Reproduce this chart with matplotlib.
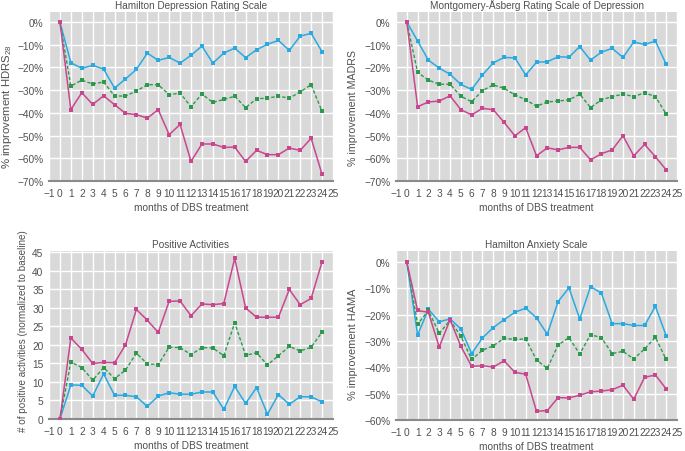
import matplotlib
matplotlib.use("Agg")
import matplotlib.pyplot as plt
from matplotlib.ticker import FuncFormatter

months = list(range(0, 25))

hdrs_blue = [0, -17.9, -20.4, -19.1, -20.7, -29.1, -25.1, -20.9, -13.7, -16.9, -15.6, -18.1, -14.7,
             -10.6, -18.1, -13.7, -11.5, -15.7, -12.2, -9.8, -8.1, -12.5, -6.2, -5.0, -13.1]
hdrs_green = [0, -28.2, -25.6, -27.3, -26.4, -32.6, -32.6, -30.4, -27.6, -27.6, -32.0, -31.3, -37.3,
              -31.7, -35.4, -34.1, -32.7, -37.7, -33.8, -33.5, -32.7, -33.5, -30.8, -27.6, -39.4]
hdrs_magenta = [0, -38.6, -31.1, -36.3, -32.5, -36.4, -40.2, -40.8, -42.3, -38.6, -49.6, -45.1, -61.4,
                -53.7, -53.7, -55.2, -55.1, -61.4, -56.5, -58.4, -58.4, -55.5, -56.5, -51.2, -67.1]

madrs_blue = [0, -8.4, -16.8, -20.3, -23.0, -27.5, -29.7, -23.3, -18.0, -15.6, -15.8, -23.3, -17.7,
              -17.5, -15.3, -15.5, -10.8, -16.8, -13.3, -11.6, -15.6, -8.8, -9.9, -8.4, -18.6]
madrs_green = [0, -22.2, -25.6, -27.4, -27.4, -32.7, -35.1, -30.2, -27.7, -29.2, -32.1, -34.2, -37.1,
               -35.2, -34.8, -34.3, -31.8, -37.7, -34.3, -32.8, -31.8, -32.8, -31.2, -32.8, -40.5]
madrs_magenta = [0, -37.3, -35.2, -34.8, -32.5, -38.6, -40.9, -38.0, -38.6, -44.2, -50.1, -46.5, -58.9,
                 -55.4, -56.3, -55.2, -55.2, -60.7, -58.0, -56.3, -50.1, -58.9, -53.9, -59.3, -65.1]

pa_blue = [0, 9.2, 9.1, 6.2, 12.2, 6.4, 6.4, 6.0, 3.4, 6.2, 7.1, 6.7, 6.7,
           7.3, 7.3, 2.6, 8.8, 4.2, 8.5, 1.3, 6.6, 4.0, 6.0, 6.0, 4.6]
pa_green = [0, 15.4, 13.9, 10.5, 13.9, 10.9, 13.2, 17.8, 14.9, 14.7, 19.4, 19.3, 17.4,
            19.3, 19.2, 17.1, 26.0, 17.2, 17.9, 14.6, 17.1, 19.6, 18.4, 19.4, 23.5]
pa_magenta = [0, 21.9, 18.8, 15.0, 15.3, 15.2, 20.0, 29.6, 26.7, 23.4, 31.8, 31.9, 27.9,
              31.1, 30.9, 31.2, 43.4, 30.0, 27.5, 27.5, 27.5, 35.0, 30.9, 32.6, 42.5]

hama_blue = [0, -27.7, -17.9, -22.7, -21.6, -25.4, -34.8, -28.8, -24.9, -21.9, -19.1, -17.5, -21.2,
             -27.4, -15.0, -9.8, -21.6, -9.3, -11.8, -23.4, -23.4, -24.1, -24.1, -16.8, -28.0]
hama_green = [0, -23.6, -18.4, -27.1, -22.1, -28.2, -37.0, -33.5, -31.8, -29.0, -29.4, -29.2, -37.2,
              -40.4, -31.5, -28.7, -34.9, -27.6, -28.7, -34.8, -33.9, -36.8, -33.0, -28.6, -37.0]
hama_magenta = [0, -18.4, -19.1, -32.3, -21.9, -32.0, -39.6, -39.4, -39.9, -37.5, -41.9, -42.6, -56.7,
                -56.4, -51.5, -51.6, -50.6, -49.3, -49.0, -48.5, -46.8, -52.1, -43.8, -42.9, -48.2]

xticks = list(range(-1, 26))

BLUE = "#2AAAE0"
GREEN = "#2E9A4E"
MAGENTA = "#C8478F"
BG = "#D9D9D9"
TXT = "#505050"

plt.rcParams['font.family'] = ['Liberation Sans', 'DejaVu Sans']
plt.rcParams['mathtext.fontset'] = 'custom'
plt.rcParams['mathtext.rm'] = 'Liberation Sans'
plt.rcParams['mathtext.it'] = 'Liberation Sans:italic'
plt.rcParams['axes.unicode_minus'] = True

fig = plt.figure(figsize=(6.85, 4.52), dpi=100)

W, H = 685, 452
def box(l, t, r, b):
    return [l / W, 1 - b / H, (r - l) / W, (b - t) / H]

panels = [
    dict(rect=box(49, 13, 333, 182), title="Hamilton Depression Rating Scale",
         ylabel="% improvement HDRS$_{\\mathrm{28}}$", data=(hdrs_blue, hdrs_green, hdrs_magenta),
         ylim=(-70, 4.4), yticks=list(range(-70, 1, 10)), pct=True, lab=(7.5, 106, 8.2)),
    dict(rect=box(396, 13, 677, 182), title="Montgomery-Åsberg Rating Scale of Depression",
         ylabel="% improvement MADRS", data=(madrs_blue, madrs_green, madrs_magenta),
         ylim=(-70, 4.4), yticks=list(range(-70, 1, 10)), pct=True, lab=(352.5, 108, 7.7)),
    dict(rect=box(49, 252, 333, 420), title="Positive Activities",
         ylabel="# of positive activities (normalized to baseline)", data=(pa_blue, pa_green, pa_magenta),
         ylim=(0, 45.4), yticks=list(range(0, 46, 5)), pct=False, lab=(23, 331, 7.1)),
    dict(rect=box(396, 252, 677, 421), title="Hamilton Anxiety Scale",
         ylabel="% improvement HAMA", data=(hama_blue, hama_green, hama_magenta),
         ylim=(-60, 4.2), yticks=list(range(-60, 1, 10)), pct=True, lab=(352.5, 344, 7.9)),
]

for p in panels:
    ax = fig.add_axes(p["rect"])
    ax.set_facecolor(BG)
    blue, green, magenta = p["data"]
    kw = dict(marker='s', ms=2.5, mew=0, zorder=3)
    ax.plot(months, blue, color=BLUE, lw=1.1, **kw)
    ax.plot(months, green, color=GREEN, lw=1.0, ls=(0, (2.5, 1.5)), **kw)
    ax.plot(months, magenta, color=MAGENTA, lw=1.1, **kw)
    ax.set_xlim(-1, 25)
    ax.set_ylim(*p["ylim"])
    ax.set_xticks(xticks)
    ax.set_yticks(p["yticks"])
    if p["pct"]:
        ax.yaxis.set_major_formatter(FuncFormatter(lambda v, pos: ("\u2212%d%%" % abs(v)) if v < 0 else "%d%%" % v))
    ax.grid(True, color="white", lw=1.0)
    ax.set_axisbelow(True)
    for s in ["top", "right", "left"]:
        ax.spines[s].set_visible(False)
    ax.spines["bottom"].set_color("#8A8A8A")
    ax.spines["bottom"].set_linewidth(1.5)
    ax.tick_params(length=0, labelsize=7.3, colors=TXT, pad=5)
    ax.tick_params(axis='y', pad=4)
    ax.set_title(p["title"], fontsize=7.2, color=TXT, pad=3)
    ax.set_xlabel("months of DBS treatment", fontsize=7.3, color=TXT, labelpad=3)
    lx, ly, lfs = p["lab"]
    fig.text(lx / W, 1 - ly / H, p["ylabel"], rotation=90, ha='center', va='center',
             fontsize=lfs, color=TXT)

fig.savefig("out.png", dpi=100)
